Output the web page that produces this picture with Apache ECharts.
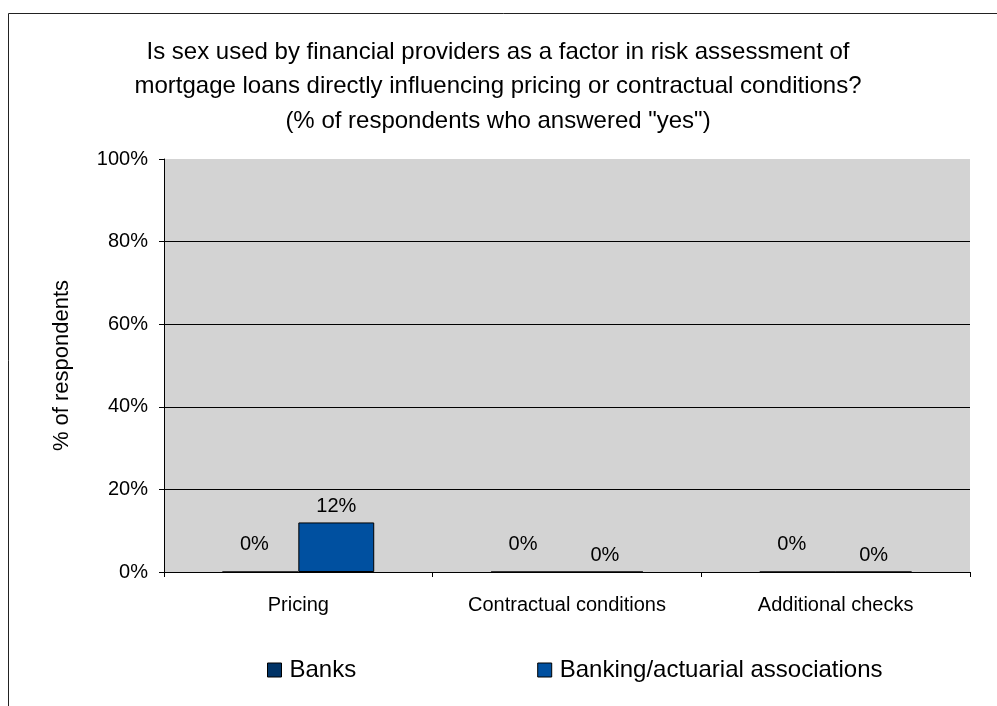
<!DOCTYPE html>
<html>
<head>
<meta charset="utf-8">
<script src="https://cdn.jsdelivr.net/npm/echarts@6/dist/echarts.min.js"></script>
<style>
  html, body { margin: 0; padding: 0; background: #fff; }
  #chart { width: 997px; height: 706px; }
</style>
</head>
<body>
<div id="chart"></div>
<script>
// Survey answers: share of respondents answering "yes"
const categories = ['Pricing', 'Contractual conditions', 'Additional checks'];
const seriesNames = ['Banks', 'Banking/actuarial associations'];
const banks = [0, 0, 0];
const associations = [12, 0, 0];
const yTicks = [0, 20, 40, 60, 80, 100];

const FONT = '"Liberation Sans", Arial, sans-serif';
const chart = echarts.init(document.getElementById('chart'), null, { renderer: 'canvas' });

const labelStyle = {
  show: true,
  position: 'top',
  distance: 6,
  formatter: p => p.value + '%',
  color: '#000',
  fontFamily: FONT,
  fontSize: 20
};

chart.setOption({
  backgroundColor: '#fff',
  animation: false,
  textStyle: { fontFamily: FONT, color: '#000' },
  title: {
    text: 'Is sex used by financial providers as a factor in risk assessment of\nmortgage loans directly influencing pricing or contractual conditions?\n(% of respondents who answered "yes")',
    left: 498,
    top: 35,
    padding: 0,
    textAlign: 'center',
    textStyle: { fontFamily: FONT, fontSize: 24, fontWeight: 'normal', color: '#000', lineHeight: 34.5 }
  },
  graphic: [{
    type: 'rect',
    shape: { x: 8.5, y: 13.5, width: 1100, height: 800 },
    style: { fill: 'none', stroke: '#222', lineWidth: 1 },
    silent: true,
    z: -1
  }],
  legend: {
    left: 267,
    top: 658,
    padding: 0,
    itemWidth: 14,
    itemHeight: 14,
    itemGap: 181,
    icon: 'rect',
    textStyle: { fontFamily: FONT, fontSize: 24, color: '#000', padding: [0, 0, 0, 3] },
    data: seriesNames.map(n => ({ name: n, itemStyle: { borderColor: '#000', borderWidth: 1 } }))
  },
  grid: {
    left: 164, right: 27, top: 159, bottom: 134,
    show: true, backgroundColor: '#d3d3d3', borderWidth: 0
  },
  xAxis: {
    type: 'category',
    data: categories,
    axisLine: { lineStyle: { color: '#000', width: 1 } },
    axisTick: { show: true, length: 5, lineStyle: { color: '#000' } },
    axisLabel: { margin: 23, fontFamily: FONT, fontSize: 20, color: '#000' }
  },
  yAxis: {
    type: 'value',
    min: 0, max: 100, interval: 20,
    name: '% of respondents',
    nameLocation: 'middle',
    nameGap: 91,
    nameRotate: 90,
    nameTextStyle: { fontFamily: FONT, fontSize: 22, color: '#000' },
    axisLine: { show: true, lineStyle: { color: '#000', width: 1 } },
    axisTick: { show: true, length: 5, lineStyle: { color: '#000' } },
    axisLabel: {
      margin: 16, fontFamily: FONT, fontSize: 20, color: '#000',
      formatter: v => (yTicks.includes(v) ? v + '%' : '')
    },
    splitLine: {
      show: true,
      lineStyle: { color: ['#000', '#000', '#000', '#000', '#000', 'rgba(0,0,0,0)'], width: 1 }
    }
  },
  series: [
    {
      name: seriesNames[0], type: 'bar', data: banks,
      barGap: '0%', barCategoryGap: '43.5%',
      itemStyle: { color: '#003366', borderColor: '#000', borderWidth: 1 },
      label: Object.assign({}, labelStyle, { distance: 17, offset: [-6, 0] })
    },
    {
      name: seriesNames[1], type: 'bar', data: associations,
      barGap: '0%', barCategoryGap: '43.5%',
      itemStyle: { color: '#0050a0', borderColor: '#000', borderWidth: 1 },
      label: labelStyle
    }
  ]
});
</script>
</body>
</html>
